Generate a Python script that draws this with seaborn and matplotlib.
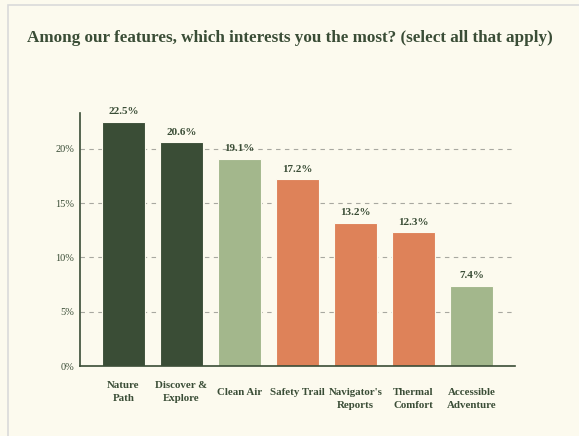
import matplotlib
matplotlib.use("Agg")
import matplotlib.pyplot as plt
import matplotlib.transforms as mtransforms
from matplotlib.patches import Rectangle
import seaborn as sns
import pandas as pd

features = ["Nature\nPath", "Discover &\nExplore", "Clean Air", "Safety Trail",
            "Navigator's\nReports", "Thermal\nComfort", "Accessible\nAdventure"]
shares = [22.5, 20.6, 19.1, 17.2, 13.2, 12.3, 7.4]
groups = ["dark", "dark", "light", "orange", "orange", "orange", "light"]
label_drop = [0, 0, 7, 7, 7, 7, 7]  # px the label top sits lower

BG = "#FCFAEE"
INK = "#3A4D36"
colors = {"dark": "#3A4D36", "light": "#A3B78C", "orange": "#DE8259"}

df = pd.DataFrame({"feature": features, "share": shares, "group": groups})

sns.set_theme(style="white")
plt.rcParams["font.family"] = ["Liberation Serif", "DejaVu Serif"]

fig = plt.figure(figsize=(5.79, 4.36), dpi=100, facecolor=BG)
fig.patches.append(Rectangle((8 / 579, -0.1), 1.2, (436 - 5) / 436 + 0.1,
                             transform=fig.transFigure, facecolor=BG,
                             edgecolor="#DADADA", linewidth=1.2, zorder=-1))
ax = fig.add_axes([80 / 579, 1 - 366 / 436, (515 - 80) / 579, (366 - 113) / 436])
ax.set_facecolor(BG)

sns.barplot(data=df, x="feature", y="share", hue="group", palette=colors,
            dodge=False, width=0.74, legend=False, ax=ax, saturation=1,
            edgecolor=BG, linewidth=0.8, zorder=2)

ax.set_xlim(-0.75, 6.75)
ax.set_ylim(0, 23.3)
ax.set_yticks([0, 5, 10, 15, 20])
ax.set_yticklabels([f"{v}%" for v in [0, 5, 10, 15, 20]], color=INK, fontsize=7.5)
ax.tick_params(axis="y", length=0, pad=4)
ax.yaxis.grid(True, linestyle=(0, (4, 4)), color="#A8A8A0", linewidth=0.8, zorder=0)
ax.set_axisbelow(True)

for s in ["top", "right"]:
    ax.spines[s].set_visible(False)
for s in ["left", "bottom"]:
    ax.spines[s].set_color(INK)
    ax.spines[s].set_linewidth(1.2)

ax.set_xlabel("")
ax.set_ylabel("")
ax.set_xticks(range(len(features)))
ax.set_xticklabels([])
ax.tick_params(axis="x", length=0)

trans = ax.get_xaxis_transform()
for i, (name, drop) in enumerate(zip(features, label_drop)):
    off = mtransforms.offset_copy(trans, fig=fig, y=-(15 + drop), units="dots")
    ax.text(i, 0, name, transform=off, ha="center", va="top", fontsize=7.8,
            fontweight="bold", color=INK, linespacing=1.6)

for i, v in enumerate(shares):
    ax.annotate(f"{v}%", (i, v), xytext=(0, 4), textcoords="offset points",
                ha="center", va="bottom", fontsize=8, fontweight="bold", color=INK)

fig.text(0.5, 1 - 38 / 436, "Among our features, which interests you the most? (select all that apply)",
         ha="center", va="center", fontsize=12.3, fontweight="bold", color=INK)

fig.savefig("out.png", dpi=100, facecolor=BG)
